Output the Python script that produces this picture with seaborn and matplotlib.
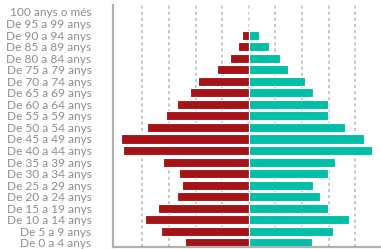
import numpy as np
import pandas as pd
import matplotlib
matplotlib.use("Agg")
import matplotlib.pyplot as plt
import seaborn as sns

# --- data (arbitrary units; gridlines every 100) ---
age_groups = [
    "100 anys o més", "De 95 a 99 anys", "De 90 a 94 anys", "De 85 a 89 anys",
    "De 80 a 84 anys", "De 75 a 79 anys", "De 70 a 74 anys", "De 65 a 69 anys",
    "De 60 a 64 anys", "De 55 a 59 anys", "De 50 a 54 anys", "De 45 a 49 anys",
    "De 40 a 44 anys", "De 35 a 39 anys", "De 30 a 34 anys", "De 25 a 29 anys",
    "De 20 a 24 anys", "De 15 a 19 anys", "De 10 a 14 anys", "De 5 a 9 anys",
    "De 0 a 4 anys",
]
men = [0, 0, 25, 42, 71, 120, 191, 221, 270, 311, 382, 479,
       472, 322, 262, 251, 270, 341, 390, 330, 240]
women = [0, 0, 37, 78, 116, 146, 213, 243, 296, 296, 363, 434,
         464, 326, 296, 243, 266, 296, 378, 318, 236]

RED = "#a51317"
TEAL = "#00bfa6"

df = pd.DataFrame({"edat": age_groups, "homes": men, "dones": women})
df["homes_neg"] = -df["homes"]

sns.set_style("white")
fig = plt.figure(figsize=(3.81, 2.49), dpi=100)
ax = fig.add_axes([113 / 381, 2 / 249, 1 - 113 / 381, 242 / 249])

sns.barplot(data=df, x="homes_neg", y="edat", orient="h", color=RED,
            width=0.78, edgecolor="white", linewidth=0.8, ax=ax,
            saturation=1)
sns.barplot(data=df, x="dones", y="edat", orient="h", color=TEAL,
            width=0.78, edgecolor="white", linewidth=0.8, ax=ax,
            saturation=1)

ax.set_xlim(-510, 497)
ax.set_ylim(20.35, -0.6)
for gx in range(-400, 401, 100):
    ax.axvline(gx, color="#b8b8b8", lw=1.1, ls=(0, (2, 2)), zorder=0)

ax.set_xticks([])
ax.set_xlabel("")
ax.set_ylabel("")
ax.tick_params(axis="y", length=0, pad=15.5)
for lbl in ax.get_yticklabels():
    lbl.set_family(["Lato", "DejaVu Sans"])
    lbl.set_fontweight("normal")
    lbl.set_fontsize(8.6)
    lbl.set_color("#8e8e8e")

for side in ["top", "right"]:
    ax.spines[side].set_visible(False)
ax.spines["left"].set_color("#b0b0b0")
ax.spines["left"].set_linewidth(1.6)
ax.spines["bottom"].set_color("#b0b0b0")
ax.spines["bottom"].set_linewidth(1.6)

fig.savefig("out.png", dpi=100)
